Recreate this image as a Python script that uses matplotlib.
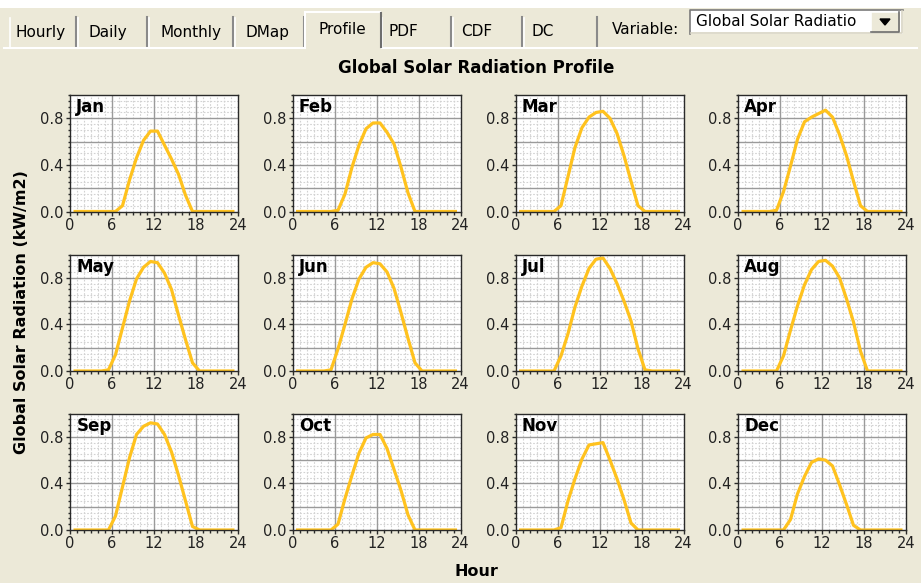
import numpy as np
import matplotlib
matplotlib.use("Agg")
import matplotlib.pyplot as plt
from matplotlib.patches import Rectangle, Polygon
from matplotlib.ticker import MultipleLocator

# ---- data: mean hourly global solar radiation (kW/m2), hour-of-day 0..23 ----
hours = np.arange(24) + 0.5
months = ["Jan", "Feb", "Mar", "Apr", "May", "Jun",
          "Jul", "Aug", "Sep", "Oct", "Nov", "Dec"]

jan = [0, 0, 0, 0, 0, 0, 0, 0.05, 0.27, 0.46, 0.61, 0.69, 0.69, 0.57, 0.45, 0.32, 0.14, 0, 0, 0, 0, 0, 0, 0]
feb = [0, 0, 0, 0, 0, 0, 0.01, 0.15, 0.38, 0.57, 0.71, 0.76, 0.76, 0.68, 0.58, 0.38, 0.16, 0, 0, 0, 0, 0, 0, 0]
mar = [0, 0, 0, 0, 0, 0, 0.05, 0.30, 0.55, 0.72, 0.81, 0.85, 0.86, 0.80, 0.67, 0.48, 0.26, 0.05, 0, 0, 0, 0, 0, 0]
apr = [0, 0, 0, 0, 0, 0.01, 0.17, 0.39, 0.62, 0.77, 0.81, 0.84, 0.87, 0.81, 0.66, 0.48, 0.26, 0.05, 0, 0, 0, 0, 0, 0]
may = [0, 0, 0, 0, 0, 0.01, 0.14, 0.37, 0.60, 0.79, 0.89, 0.94, 0.93, 0.84, 0.70, 0.48, 0.27, 0.07, 0, 0, 0, 0, 0, 0]
jun = [0, 0, 0, 0, 0, 0.01, 0.19, 0.40, 0.62, 0.79, 0.89, 0.93, 0.92, 0.85, 0.71, 0.50, 0.28, 0.07, 0, 0, 0, 0, 0, 0]
jul = [0, 0, 0, 0, 0, 0, 0.13, 0.32, 0.55, 0.73, 0.88, 0.96, 0.97, 0.88, 0.75, 0.60, 0.43, 0.19, 0.01, 0, 0, 0, 0, 0]
aug = [0, 0, 0, 0, 0, 0, 0.13, 0.35, 0.56, 0.74, 0.87, 0.94, 0.95, 0.90, 0.80, 0.62, 0.42, 0.17, 0, 0, 0, 0, 0, 0]
sep = [0, 0, 0, 0, 0, 0, 0.12, 0.37, 0.62, 0.82, 0.89, 0.92, 0.91, 0.82, 0.67, 0.47, 0.25, 0.03, 0, 0, 0, 0, 0, 0]
oct_ = [0, 0, 0, 0, 0, 0, 0.05, 0.27, 0.47, 0.66, 0.79, 0.82, 0.82, 0.70, 0.52, 0.34, 0.13, 0, 0, 0, 0, 0, 0, 0]
nov = [0, 0, 0, 0, 0, 0, 0.02, 0.25, 0.44, 0.61, 0.73, 0.74, 0.75, 0.60, 0.44, 0.26, 0.06, 0, 0, 0, 0, 0, 0, 0]
dec = [0, 0, 0, 0, 0, 0, 0, 0.09, 0.31, 0.46, 0.58, 0.61, 0.60, 0.55, 0.39, 0.22, 0.04, 0, 0, 0, 0, 0, 0, 0]
profiles = [jan, feb, mar, apr, may, jun, jul, aug, sep, oct_, nov, dec]

x_ticks = [0, 6, 12, 18, 24]
y_ticks = [0.0, 0.4, 0.8]

tab_names = ["Hourly", "Daily", "Monthly", "DMap", "Profile", "PDF", "CDF", "DC"]
active_tab = "Profile"

# ---- style ----
W, H = 921, 583
BG = "#ECE9D8"
LINE = "#FFC21E"
UI_FONT = "DejaVu Sans"

fig = plt.figure(figsize=(W / 100, H / 100), dpi=100, facecolor=BG)

# pixel-space overlay for the window chrome (tabs, combo box)
ui = fig.add_axes([0, 0, 1, 1], zorder=0)
ui.set_xlim(0, W)
ui.set_ylim(H, 0)
ui.axis("off")

ui.add_patch(Rectangle((0, 0), W, 8, facecolor="white", edgecolor="none"))

# tab strip
tab_edges = [9, 77, 148, 234, 305, 381, 452, 523, 598]
tab_text_x = [15, 88, 160, 245, 318, 388, 461, 531]
for i, name in enumerate(tab_names):
    x0, x1 = tab_edges[i], tab_edges[i + 1]
    if name == active_tab:
        top = 12
        ui.add_patch(Rectangle((x0, top), x1 - x0, 48 - top, facecolor=BG, edgecolor="none", zorder=3))
        ui.plot([x0, x0], [48, top], color="white", lw=1.5, zorder=4)
        ui.plot([x0, x1 - 1], [top, top], color="white", lw=1.5, zorder=4)
        ui.plot([x1, x1], [top + 1, 47], color="#6e6e6e", lw=1.5, zorder=4)
        ty = 29
    else:
        top = 16
        ui.plot([x0 + 1, x0 + 1], [top + 2, 47], color="white", lw=1.2, zorder=2)
        ui.plot([x1 - 1, x1 - 1], [top + 1, 47], color="#8a8a8a", lw=1.5, zorder=2)
        ty = 32
    ui.text(tab_text_x[i], ty, name, fontsize=11, family=UI_FONT, color="black",
            ha="left", va="center", zorder=5)

# page border under the tabs (open below the active one)
act = tab_names.index(active_tab)
ui.plot([4, tab_edges[act]], [48, 48], color="white", lw=1.5, zorder=2)
ui.plot([tab_edges[act + 1] + 1, W - 4], [48, 48], color="white", lw=1.5, zorder=2)

# variable selector
ui.text(612, 29, "Variable:", fontsize=11, family=UI_FONT, ha="left", va="center")
ui.add_patch(Rectangle((690, 10), 213, 24, facecolor="white", edgecolor="none"))
ui.plot([690, 690, 903], [34, 10, 10], color="#7a7a7a", lw=1.2)
ui.plot([691, 902, 902], [33, 33, 11], color="#d8d4c4", lw=1.2)
ui.text(696, 22, "Global Solar Radiatio", fontsize=11, family=UI_FONT, ha="left", va="center")
ui.add_patch(Rectangle((871, 12), 29, 20, facecolor=BG, edgecolor="none"))
ui.plot([871, 871, 899], [32, 12, 12], color="white", lw=1.2)
ui.plot([871, 899, 899], [32, 32, 12], color="#6e6e6e", lw=1.2)
ui.add_patch(Polygon([[880, 19], [890, 19], [885, 25]], closed=True, facecolor="black", edgecolor="black"))

# ---- 4 x 3 grid of monthly profile panels ----
col_left = [70, 292.5, 515.5, 738]
row_top = [95, 254.5, 413.5]
pw, ph = 168, 116.5

for k, (name, vals) in enumerate(zip(months, profiles)):
    r, c = divmod(k, 4)
    left = col_left[c] / W
    bottom = 1 - (row_top[r] + ph) / H
    ax = fig.add_axes([left, bottom, pw / W, ph / H], zorder=2)
    ax.set_facecolor("white")

    ax.plot(hours, vals, color=LINE, lw=2.3, solid_joinstyle="round",
            solid_capstyle="butt", zorder=4)

    ax.set_xlim(0, 24)
    ax.set_ylim(0, 1.0)
    ax.set_xticks(x_ticks)
    ax.set_yticks(y_ticks)
    ax.set_yticklabels([f"{v:.1f}" for v in y_ticks])
    ax.xaxis.set_minor_locator(MultipleLocator(1))
    ax.yaxis.set_minor_locator(MultipleLocator(0.05))

    ax.grid(False)
    for v in np.arange(1, 24):
        if v % 6:
            ax.axvline(v, color="#d2d2d2", lw=0.8, ls=(0, (1.5, 1.5)), zorder=1)
    for v in np.arange(0.05, 1.0, 0.05):
        if round(v / 0.2, 6) % 1:
            ax.axhline(v, color="#d2d2d2", lw=0.8, ls=(0, (1.5, 1.5)), zorder=1)
    for v in [6, 12, 18]:
        ax.axvline(v, color="#9a9a9a", lw=1.0, zorder=2)
    for v in [0.2, 0.4, 0.6, 0.8]:
        ax.axhline(v, color="#9a9a9a", lw=1.0, zorder=2)

    for s in ax.spines.values():
        s.set_color("#2a2a2a")
        s.set_linewidth(1.0)
        s.set_zorder(5)

    ax.tick_params(which="major", direction="out", length=3, width=1.0,
                   color="#2a2a2a", labelsize=10.5, pad=1.5, labelcolor="#222222")
    ax.tick_params(which="minor", direction="out", length=1.8, width=1.0, color="#2a2a2a")
    for lab in ax.get_xticklabels() + ax.get_yticklabels():
        lab.set_family(UI_FONT)

    ax.annotate(name, xy=(0, 1), xycoords="axes fraction", xytext=(4.5, -2.5),
                textcoords="offset points", ha="left", va="top",
                fontsize=12, fontweight="bold", family=UI_FONT, zorder=6)

# titles
fig.text(476 / W, 1 - 68 / H, "Global Solar Radiation Profile", ha="center", va="center",
         fontsize=12, fontweight="bold", family=UI_FONT)
fig.text(476 / W, 1 - 572 / H, "Hour", ha="center", va="center",
         fontsize=11.5, fontweight="bold", family=UI_FONT)
fig.text(22 / W, 1 - 312 / H, "Global Solar Radiation (kW/m2)", ha="center", va="center",
         rotation=90, fontsize=11.5, fontweight="bold", family=UI_FONT)

fig.savefig("out.png", dpi=100, facecolor=BG)
